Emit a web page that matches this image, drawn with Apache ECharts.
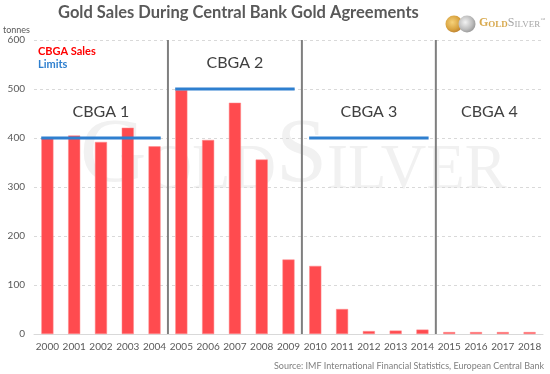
<!DOCTYPE html>
<html>
<head>
<meta charset="utf-8">
<script src="https://cdn.jsdelivr.net/npm/echarts@6/dist/echarts.min.js"></script>
<style>
html,body{margin:0;padding:0;background:#fff;}
#chart{width:550px;height:374px;}
</style>
</head>
<body>
<div id="chart"></div>
<script>
const years = ['2000','2001','2002','2003','2004','2005','2006','2007','2008','2009','2010','2011','2012','2013','2014','2015','2016','2017','2018'];
const sales = [400, 405, 392, 421, 383, 498, 396, 472, 356, 152, 139, 51, 6, 7, 9, 4, 4, 4, 4];
const periodNames = ['CBGA 1', 'CBGA 2', 'CBGA 3', 'CBGA 4'];
const periodStart = [0, 5, 10, 15];
const periodEnd = [4, 9, 14, 18];
const periodLimit = [400, 500, 400, null];
const yTicks = [0, 100, 200, 300, 400, 500, 600];

const FONT = 'Lato, "Open Sans", sans-serif';
const chart = echarts.init(document.getElementById('chart'), null, {renderer: 'canvas'});

const limitData = [];
const sepData = [];
const labelData = [];
for (let i = 0; i < periodNames.length; i++) {
  if (periodLimit[i] !== null) limitData.push([periodStart[i], periodEnd[i], periodLimit[i]]);
  if (i > 0) sepData.push([periodStart[i] - 0.5]);
  labelData.push([periodStart[i], periodEnd[i], periodLimit[i] === null ? 400 : periodLimit[i], periodNames[i]]);
}

const option = {
  animation: false,
  backgroundColor: '#ffffff',
  grid: {left: 34, right: 7, top: 40, bottom: 40, containLabel: false},
  xAxis: {
    type: 'category',
    data: years,
    axisLine: {lineStyle: {color: '#d9d9d9', width: 1}},
    axisTick: {show: false},
    axisLabel: {color: '#595959', fontSize: 10, fontFamily: FONT, margin: 8, interval: 0}
  },
  yAxis: {
    type: 'value',
    min: yTicks[0], max: yTicks[yTicks.length - 1], interval: 100,
    axisLine: {show: false},
    axisTick: {show: false},
    axisLabel: {color: '#595959', fontSize: 10, fontFamily: FONT, margin: 9},
    splitLine: {lineStyle: {color: '#d9d9d9', type: [3, 3], width: 1}}
  },
  graphic: [
    {type: 'text', left: 58, top: 4, z: 10,
     style: {text: 'Gold Sales During Central Bank Gold Agreements', fill: '#595959', font: 'bold 16.5px ' + FONT}},
    {type: 'text', left: 3, top: 26, z: 10,
     style: {text: 'tonnes', fill: '#595959', font: '9px ' + FONT}},
    {type: 'text', left: 38, top: 46, z: 10,
     style: {text: 'CBGA Sales', fill: '#ff0000', font: 'bold 11px ' + FONT}},
    {type: 'text', left: 38, top: 59, z: 10,
     style: {text: 'Limits', fill: '#2e7fcf', font: 'bold 11px ' + FONT}},
    {type: 'text', right: 6, top: 362, z: 10,
     style: {text: 'Source: IMF International Financial Statistics, European Central Bank', fill: '#7f7f7f', font: '9px ' + FONT}},
    // watermark
    {type: 'text', x: 80, y: 203, z: -10, silent: true,
     style: {
       text: '{b|G}{s|OLD}{b|S}{s|ILVER}', textVerticalAlign: 'bottom',
       rich: {
         b: {fontFamily: '"Liberation Serif", serif', fontSize: 92, fill: '#f1f1f1', lineHeight: 92, verticalAlign: 'bottom'},
         s: {fontFamily: '"Liberation Serif", serif', fontSize: 63, fill: '#f1f1f1', lineHeight: 92, verticalAlign: 'bottom'}
       }
     }},
    // logo coins
    {type: 'circle', shape: {cx: 454, cy: 24, r: 8.5}, z: 10,
     style: {fill: {type: 'radial', x: 0.4, y: 0.4, r: 0.7, colorStops: [{offset: 0, color: '#f6d27a'}, {offset: 0.6, color: '#d9a441'}, {offset: 1, color: '#b5762a'}]}}},
    {type: 'circle', shape: {cx: 467, cy: 24, r: 8.5}, z: 11,
     style: {fill: {type: 'radial', x: 0.4, y: 0.4, r: 0.7, colorStops: [{offset: 0, color: '#f2f2f2'}, {offset: 0.6, color: '#bdbdbd'}, {offset: 1, color: '#8c8c8c'}]}}},
    {type: 'text', x: 479, y: 29, z: 10,
     style: {
       text: '{gb|G}{gs|OLD}{sb|S}{ss|ILVER}{tm|™}', textVerticalAlign: 'bottom',
       rich: {
         gb: {fontFamily: '"Liberation Serif", serif', fontSize: 12, fill: '#d8a94e', fontWeight: 'bold', verticalAlign: 'bottom'},
         gs: {fontFamily: '"Liberation Serif", serif', fontSize: 9, fill: '#d8a94e', fontWeight: 'bold', verticalAlign: 'bottom'},
         sb: {fontFamily: '"Liberation Serif", serif', fontSize: 12, fill: '#a6a6a6', verticalAlign: 'bottom'},
         ss: {fontFamily: '"Liberation Serif", serif', fontSize: 9, fill: '#a6a6a6', verticalAlign: 'bottom'},
         tm: {fontFamily: '"Liberation Serif", serif', fontSize: 5, fill: '#a6a6a6', verticalAlign: 'top'}
       }
     }}
  ],
  series: [
    {
      type: 'bar', name: 'CBGA Sales', data: sales, barWidth: '45%', z: 2,
      itemStyle: {color: '#ff4b4f', borderColor: '#ff8a8c', borderWidth: 0.5}
    },
    {
      type: 'custom', name: 'Separators', data: sepData, z: 3, silent: true,
      renderItem: function (params, api) {
        const cs = params.coordSys;
        const x = api.coord([api.value(0) + 0.5, 0])[0] - api.size([1, 0])[0] / 2;
        return {type: 'line', shape: {x1: x, y1: cs.y, x2: x, y2: cs.y + cs.height},
                style: {stroke: '#7f7f7f', lineWidth: 2}};
      }
    },
    {
      type: 'custom', name: 'Limits', data: limitData, z: 4, silent: true,
      renderItem: function (params, api) {
        const half = api.size([1, 0])[0] * 0.23;
        const p1 = api.coord([api.value(0), api.value(2)]);
        const p2 = api.coord([api.value(1), api.value(2)]);
        return {type: 'line', shape: {x1: p1[0] - half, y1: p1[1], x2: p2[0] + half, y2: p2[1]},
                style: {stroke: '#2e7fcf', lineWidth: 3}};
      }
    },
    {
      type: 'custom', name: 'Labels', data: labelData, z: 5, silent: true,
      renderItem: function (params, api) {
        const p1 = api.coord([api.value(0), api.value(2)]);
        const p2 = api.coord([api.value(1), api.value(2)]);
        return {type: 'text',
                style: {text: labelData[params.dataIndex][3], x: (p1[0] + p2[0]) / 2, y: p1[1] - 26.5,
                        textAlign: 'center', textVerticalAlign: 'middle', fill: '#404040', font: '16px ' + FONT}};
      }
    }
  ]
};
chart.setOption(option);
</script>
</body>
</html>
